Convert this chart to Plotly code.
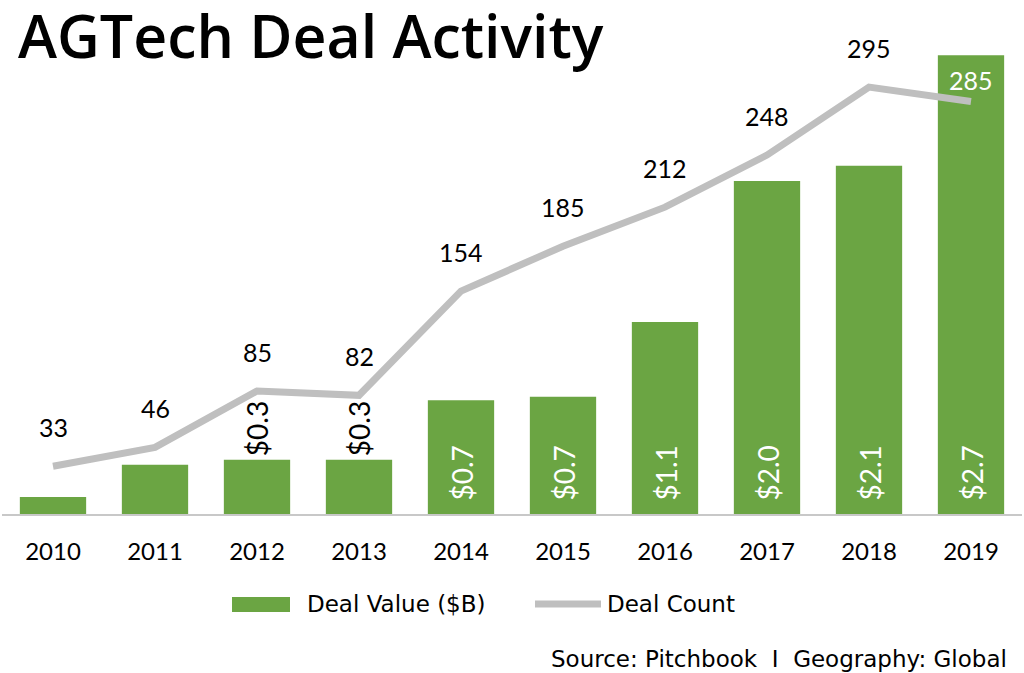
import plotly.graph_objects as go

years = ["2010", "2011", "2012", "2013", "2014", "2015", "2016", "2017", "2018", "2019"]
deal_value = [0.10, 0.29, 0.32, 0.32, 0.67, 0.69, 1.13, 1.96, 2.05, 2.70]
value_labels = ["", "", "$0.3", "$0.3", "$0.7", "$0.7", "$1.1", "$2.0", "$2.1", "$2.7"]
deal_count = [33, 46, 85, 82, 154, 185, 212, 248, 295, 285]

GREEN = "#6ba543"
GRAY = "#bfbfbf"
FONT = "Lato"
FONT2 = "Open Sans"
FONT3 = "DejaVu Sans"

fig = go.Figure()
fig.add_trace(go.Bar(x=years, y=deal_value, marker=dict(color=GREEN, line=dict(width=0)),
                     width=0.65, name="Deal Value ($B)", showlegend=False, hoverinfo="skip"))
fig.add_trace(go.Scatter(x=years, y=deal_count, yaxis="y2", mode="lines",
                         line=dict(color=GRAY, width=7), name="Deal Count",
                         showlegend=False, hoverinfo="skip"))

ann = []
# bar value labels
for i, (v, lab) in enumerate(zip(deal_value, value_labels)):
    if not lab:
        continue
    if v < 0.5:
        ann.append(dict(x=i, y=v, xref="x", yref="y", text=lab, textangle=-90, showarrow=False,
                        yanchor="bottom", xanchor="center", yshift=1,
                        font=dict(family=FONT, size=28, color="black")))
    else:
        ann.append(dict(x=i, y=0, xref="x", yref="y", text=lab, textangle=-90, showarrow=False,
                        yanchor="bottom", xanchor="center", yshift=11,
                        font=dict(family=FONT, size=28, color="white")))
# count labels
for i, c in enumerate(deal_count):
    last = i == len(years) - 1
    ann.append(dict(x=i, y=c, xref="x", yref="y2", text=str(c), showarrow=False,
                    yanchor="middle", xanchor="center", yshift=22 if last else 39,
                    font=dict(family=FONT, size=25, color="white" if last else "black")))

L, R, T, B = 2, 2, 40, 159
W, H = 1024, 673
pw, ph = W - L - R, H - T - B


def px2paper(px, py):
    return (px - L) / pw, (H - B - py) / ph


for txt, px, py, xa, size, fam, extra in [
    ("AGTech Deal Activity", 16, 35, "left", 59, FONT2, dict(weight=600)),
    ("Deal Value ($B)", 305, 604, "left", 23, FONT3, {}),
    ("Deal Count", 605, 604, "left", 23, FONT3, {}),
    ("Source: Pitchbook  I  Geography: Global", 1009, 659, "right", 23, FONT3, {}),
]:
    x, y = px2paper(px, py)
    ann.append(dict(x=x, y=y, xref="paper", yref="paper", text=txt, showarrow=False,
                    xanchor=xa, yanchor="middle",
                    font=dict(family=fam, size=size, color="black", **extra)))

gx0, gy0 = px2paper(232, 612)
gx1, gy1 = px2paper(290, 597)
lx0, ly = px2paper(535, 604)
lx1, _ = px2paper(601, 604)
shapes = [
    dict(type="rect", xref="paper", yref="paper", x0=gx0, x1=gx1, y0=gy0, y1=gy1,
         fillcolor=GREEN, line=dict(width=0)),
    dict(type="line", xref="paper", yref="paper", x0=lx0, x1=lx1, y0=ly, y1=ly,
         line=dict(color=GRAY, width=7)),
]

fig.update_layout(
    width=W, height=H, autosize=False,
    margin=dict(l=L, r=R, t=T, b=B, pad=0, autoexpand=False),
    paper_bgcolor="white", plot_bgcolor="white",
    xaxis=dict(type="category", range=[-0.5, 9.5], autorange=False, automargin=False,
               showgrid=False, zeroline=False, ticks="", showline=True,
               linecolor="#c8c8c8", linewidth=2,
               tickfont=dict(family=FONT, size=24, color="black"), ticklabelstandoff=15),
    yaxis=dict(range=[0, 2.79], autorange=False, visible=False, showgrid=False, zeroline=False),
    yaxis2=dict(range=[0, 327.5], autorange=False, overlaying="y", visible=False,
                showgrid=False, zeroline=False),
    annotations=ann, shapes=shapes, showlegend=False,
)

fig.write_html("out.html", config={"displayModeBar": False},
               post_script="document.body.style.margin='0';document.body.style.overflow='hidden';")
